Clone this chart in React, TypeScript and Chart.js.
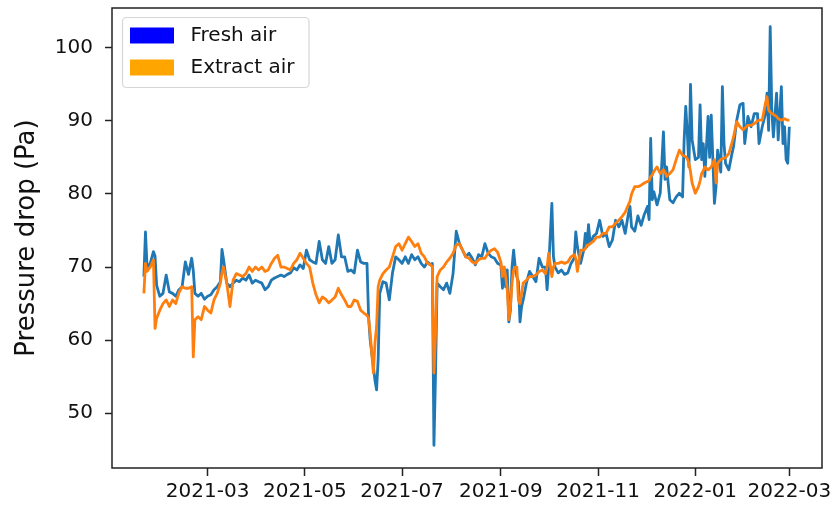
import { useEffect, useRef } from "react";
import { Chart, registerables } from "chart.js";

Chart.register(...registerables);

// ---- data ----
const dates: string[] = [
  "2021-01-20", "2021-01-21", "2021-01-22", "2021-01-24", "2021-01-26", "2021-01-27", "2021-01-28", "2021-01-30",
  "2021-02-01", "2021-02-03", "2021-02-05", "2021-02-07", "2021-02-09", "2021-02-11", "2021-02-13", "2021-02-15", "2021-02-17", "2021-02-19", "2021-02-20", "2021-02-21", "2021-02-23", "2021-02-25", "2021-02-27",
  "2021-03-01", "2021-03-03", "2021-03-05", "2021-03-07", "2021-03-09", "2021-03-10", "2021-03-11", "2021-03-13", "2021-03-15", "2021-03-17", "2021-03-19", "2021-03-21", "2021-03-23", "2021-03-25", "2021-03-27", "2021-03-29", "2021-03-31",
  "2021-04-02", "2021-04-04", "2021-04-06", "2021-04-08", "2021-04-10", "2021-04-12", "2021-04-14", "2021-04-16", "2021-04-18", "2021-04-20", "2021-04-22", "2021-04-24", "2021-04-26", "2021-04-28", "2021-04-30",
  "2021-05-02", "2021-05-04", "2021-05-06", "2021-05-08", "2021-05-10", "2021-05-12", "2021-05-14", "2021-05-16", "2021-05-18", "2021-05-20", "2021-05-22", "2021-05-24", "2021-05-26", "2021-05-28", "2021-05-30",
  "2021-06-01", "2021-06-03", "2021-06-05", "2021-06-07", "2021-06-09", "2021-06-10", "2021-06-11", "2021-06-13", "2021-06-14", "2021-06-15", "2021-06-16", "2021-06-17", "2021-06-19", "2021-06-21", "2021-06-23", "2021-06-25", "2021-06-27", "2021-06-29",
  "2021-07-01", "2021-07-03", "2021-07-05", "2021-07-07", "2021-07-09", "2021-07-11", "2021-07-13", "2021-07-15", "2021-07-17", "2021-07-19", "2021-07-20", "2021-07-21", "2021-07-22", "2021-07-23", "2021-07-25", "2021-07-27", "2021-07-29", "2021-07-31",
  "2021-08-02", "2021-08-04", "2021-08-06", "2021-08-08", "2021-08-10", "2021-08-12", "2021-08-14", "2021-08-16", "2021-08-18", "2021-08-20", "2021-08-22", "2021-08-24", "2021-08-26", "2021-08-28", "2021-08-30",
  "2021-09-01", "2021-09-02", "2021-09-03", "2021-09-04", "2021-09-05", "2021-09-06", "2021-09-07", "2021-09-08", "2021-09-09", "2021-09-10", "2021-09-11", "2021-09-12", "2021-09-13", "2021-09-14", "2021-09-15", "2021-09-17", "2021-09-19", "2021-09-21", "2021-09-23", "2021-09-25", "2021-09-27", "2021-09-29", "2021-09-30",
  "2021-10-01", "2021-10-03", "2021-10-04", "2021-10-05", "2021-10-07", "2021-10-09", "2021-10-11", "2021-10-13", "2021-10-15", "2021-10-17", "2021-10-18", "2021-10-19", "2021-10-21", "2021-10-23", "2021-10-24", "2021-10-25", "2021-10-26", "2021-10-27", "2021-10-29", "2021-10-31",
  "2021-11-02", "2021-11-04", "2021-11-06", "2021-11-08", "2021-11-10", "2021-11-12", "2021-11-14", "2021-11-16", "2021-11-18", "2021-11-20", "2021-11-21", "2021-11-22", "2021-11-24", "2021-11-26", "2021-11-28", "2021-11-30",
  "2021-12-02", "2021-12-03", "2021-12-04", "2021-12-05", "2021-12-06", "2021-12-08", "2021-12-10", "2021-12-12", "2021-12-13", "2021-12-14", "2021-12-16", "2021-12-18", "2021-12-20", "2021-12-22", "2021-12-24", "2021-12-25", "2021-12-26", "2021-12-27", "2021-12-28", "2021-12-29", "2021-12-30",
  "2022-01-01", "2022-01-03", "2022-01-04", "2022-01-05", "2022-01-06", "2022-01-07", "2022-01-09", "2022-01-10", "2022-01-11", "2022-01-13", "2022-01-14", "2022-01-15", "2022-01-17", "2022-01-18", "2022-01-19", "2022-01-20", "2022-01-22", "2022-01-24", "2022-01-25", "2022-01-27", "2022-01-29", "2022-01-31",
  "2022-02-01", "2022-02-03", "2022-02-05", "2022-02-07", "2022-02-09", "2022-02-10", "2022-02-12", "2022-02-14", "2022-02-15", "2022-02-16", "2022-02-17", "2022-02-18", "2022-02-19", "2022-02-21", "2022-02-22", "2022-02-24", "2022-02-25", "2022-02-26", "2022-02-27", "2022-02-28",
  "2022-03-01",
];

const freshAir: number[] = [
  68.7, 74.8, 70.0, 70.5, 72.1, 71.5, 67.5, 66.0,
  66.4, 68.9, 66.6, 66.4, 66.0, 66.9, 67.3, 70.7, 69.0, 71.2, 69.5, 66.4, 66.0, 66.4, 65.6,
  66.0, 66.2, 66.9, 67.3, 68.0, 72.4, 71.0, 67.8, 67.3, 67.8, 68.2, 68.0, 68.5, 68.2, 68.9, 67.8, 68.2,
  68.0, 67.8, 66.9, 67.3, 68.2, 68.5, 68.7, 68.9, 68.7, 69.0, 69.2, 69.9, 69.6, 70.3, 69.8,
  72.3, 71.0, 70.7, 70.5, 73.5, 71.0, 70.5, 72.8, 70.5, 71.0, 74.4, 71.4, 71.4, 69.4, 69.6,
  69.2, 72.3, 70.7, 70.5, 70.5, 63.2, 60.0, 56.4, 54.5, 53.2, 57.3, 66.4, 68.0, 67.8, 65.5, 69.2, 71.4, 71.0,
  70.5, 71.4, 70.5, 71.7, 71.0, 71.4, 70.5, 70.0, 70.7, 70.3, 70.5, 45.6, 55.4, 67.8, 67.3, 66.9, 67.8, 66.4,
  69.1, 74.9, 73.2, 72.3, 71.4, 71.9, 71.2, 70.3, 71.7, 71.4, 73.2, 71.9, 71.4, 71.2, 70.5,
  70.3, 67.1, 70.0, 67.3, 69.6, 62.5, 64.1, 70.0, 72.3, 70.0, 68.7, 68.0, 62.5, 64.6, 65.5, 67.8, 69.4, 68.7, 68.0, 71.2, 70.0, 70.0, 66.9,
  70.0, 78.7, 71.4, 70.0, 69.2, 69.6, 69.0, 69.2, 70.5, 71.2, 74.8, 72.8, 70.5, 72.3, 74.6, 72.8, 75.8, 73.2, 74.2, 74.6,
  76.4, 74.2, 74.6, 72.8, 73.7, 76.4, 75.5, 76.4, 74.6, 77.3, 78.3, 75.5, 74.9, 77.0, 75.7, 77.2,
  78.3, 76.5, 87.6, 79.2, 80.3, 78.5, 80.1, 88.5, 82.0, 83.7, 79.2, 78.8, 79.6, 80.1, 79.6, 87.4, 92.0, 88.3, 83.7, 95.0, 87.4,
  84.7, 85.0, 92.2, 84.7, 86.9, 82.4, 90.6, 85.0, 90.8, 78.7, 81.0, 86.0, 83.0, 94.7, 86.9, 84.2, 83.3, 85.5, 86.5, 90.1, 92.2, 92.4,
  86.9, 90.6, 89.2, 91.0, 91.0, 86.9, 89.2, 91.0, 93.8, 88.7, 102.9, 91.5, 87.8, 93.8, 87.4, 94.7, 86.9, 89.2, 84.7, 84.2,
  89.2,
];

const extractAir: number[] = [
  66.4, 70.5, 69.4, 70.0, 71.0, 61.6, 63.0, 64.1,
  65.0, 65.5, 64.6, 65.5, 65.0, 66.5, 67.3, 67.1, 67.1, 67.3, 57.7, 62.8, 63.2, 62.8, 64.6,
  64.1, 63.7, 65.5, 66.4, 67.8, 69.2, 70.0, 67.8, 64.6, 68.2, 69.1, 68.9, 68.7, 69.1, 70.0, 69.4, 70.0,
  69.6, 70.0, 69.4, 69.6, 70.5, 71.2, 71.6, 70.0, 70.0, 69.8, 69.6, 70.5, 71.0, 71.9, 71.2,
  70.5, 70.0, 67.8, 66.2, 65.1, 65.9, 65.6, 65.1, 65.5, 65.9, 67.1, 66.2, 65.5, 64.6, 64.6,
  65.5, 65.3, 64.1, 63.7, 63.4, 63.0, 60.9, 55.5, 59.6, 61.8, 67.3, 68.2, 69.1, 69.6, 70.0, 71.4, 72.8, 73.2,
  72.3, 73.2, 74.1, 73.5, 72.8, 73.2, 71.9, 71.4, 70.5, 70.3, 70.0, 55.5, 60.9, 68.7, 69.6, 70.0, 70.7, 71.2,
  71.9, 73.0, 73.2, 72.3, 71.4, 71.2, 70.7, 70.5, 71.0, 71.2, 71.2, 71.9, 72.3, 72.5, 72.0,
  70.7, 68.7, 70.0, 68.7, 67.0, 62.8, 64.6, 67.8, 69.6, 70.0, 70.0, 65.5, 65.0, 66.4, 67.8, 68.2, 68.7, 68.7, 68.9, 69.4, 69.6, 69.1, 70.0,
  71.9, 68.7, 70.0, 70.5, 70.5, 70.7, 70.5, 70.7, 71.4, 71.7, 71.2, 69.4, 72.3, 72.3, 72.5, 73.0, 73.0, 73.2, 73.5, 74.1,
  74.1, 74.6, 74.6, 75.5, 75.5, 76.0, 76.4, 76.9, 77.5, 78.5, 79.0, 80.0, 81.0, 81.0, 81.2, 81.5,
  81.7, 81.8, 82.4, 82.6, 83.1, 83.7, 82.8, 83.3, 83.0, 82.4, 82.8, 83.3, 84.7, 86.0, 85.3, 85.2, 85.1, 84.8, 84.2, 83.0, 81.5,
  80.1, 81.0, 81.8, 82.8, 83.2, 83.7, 83.3, 83.5, 83.7, 84.7, 81.5, 84.2, 84.7, 84.8, 84.9, 85.0, 85.5, 87.0, 87.8, 89.9, 89.2, 88.8,
  89.0, 89.4, 89.4, 89.6, 90.0, 90.1, 90.1, 92.4, 93.3, 91.5, 91.2, 91.0, 90.9, 90.6, 90.3, 90.1, 90.2, 90.3, 90.2, 90.1,
  90.1,
];

const seriesNames: string[] = ["Fresh air", "Extract air"];
const lineColors: string[] = ["#1f77b4", "#ff7f0e"];
const legendColors: string[] = ["#0000ff", "#ffa500"];
const xTickLabels: string[] = ["2021-03", "2021-05", "2021-07", "2021-09", "2021-11", "2022-01", "2022-03"];
const yTickValues: number[] = [50, 60, 70, 80, 90, 100];
const yTitle = "Pressure drop (Pa)";

// ---- helpers ----
const EPOCH = Date.UTC(2021, 0, 1);
const toDay = (s: string): number => {
  const [y, m, d] = s.split("-").map(Number);
  return (Date.UTC(y, m - 1, d || 1) - EPOCH) / 86400000;
};
const xTickValues = xTickLabels.map((l) => toDay(l));
const xDays = dates.map(toDay);

const FONT = "DejaVu Sans";
const TEXT_COLOR = "#111111";
const AXIS_COLOR = "#222222";

const framePlugin = {
  id: "frameAndLegend",
  afterDraw(chart: any) {
    const { ctx, chartArea } = chart;
    const { left, top, right, bottom } = chartArea;
    ctx.save();
    // axes frame
    ctx.strokeStyle = AXIS_COLOR;
    ctx.lineWidth = 1.5;
    ctx.strokeRect(left, top, right - left, bottom - top);

    // legend
    ctx.font = `20px "${FONT}"`;
    const textW = Math.max(...seriesNames.map((n) => ctx.measureText(n).width));
    const bx = left + 10.5;
    const by = top + 9.5;
    const bw = 8 + 44 + 16.5 + textW + 14;
    const bh = 70;
    const r = 4;
    ctx.beginPath();
    ctx.moveTo(bx + r, by);
    ctx.lineTo(bx + bw - r, by);
    ctx.arcTo(bx + bw, by, bx + bw, by + r, r);
    ctx.lineTo(bx + bw, by + bh - r);
    ctx.arcTo(bx + bw, by + bh, bx + bw - r, by + bh, r);
    ctx.lineTo(bx + r, by + bh);
    ctx.arcTo(bx, by + bh, bx, by + bh - r, r);
    ctx.lineTo(bx, by + r);
    ctx.arcTo(bx, by, bx + r, by, r);
    ctx.closePath();
    ctx.fillStyle = "rgba(255,255,255,0.8)";
    ctx.fill();
    ctx.strokeStyle = "#d6d6d6";
    ctx.lineWidth = 1.2;
    ctx.stroke();

    seriesNames.forEach((name, i) => {
      const cy = by + 18 + i * 32;
      ctx.fillStyle = legendColors[i];
      ctx.fillRect(bx + 7.5, cy - 8, 44, 16);
      ctx.fillStyle = TEXT_COLOR;
      ctx.textAlign = "left";
      ctx.textBaseline = "middle";
      ctx.fillText(name, bx + 68, cy);
    });
    ctx.restore();
  },
};

export default function App() {
  const canvasRef = useRef<HTMLCanvasElement | null>(null);

  useEffect(() => {
    document.body.style.margin = "0";
    const canvas = canvasRef.current;
    if (!canvas) return;

    const makeData = (vals: number[]) => vals.map((v, i) => ({ x: xDays[i], y: v }));

    const chart = new Chart(canvas, {
      type: "line",
      data: {
        datasets: [
          {
            label: seriesNames[0],
            data: makeData(freshAir),
            borderColor: lineColors[0],
            backgroundColor: lineColors[0],
            borderWidth: 2.8,
            pointRadius: 0,
            tension: 0,
            borderJoinStyle: "round",
            order: 2,
          },
          {
            label: seriesNames[1],
            data: makeData(extractAir),
            borderColor: lineColors[1],
            backgroundColor: lineColors[1],
            borderWidth: 2.8,
            pointRadius: 0,
            tension: 0,
            borderJoinStyle: "round",
            order: 1,
          },
        ],
      },
      options: {
        animation: false,
        responsive: false,
        maintainAspectRatio: false,
        events: [],
        layout: { padding: { top: 8, right: 13, left: 0, bottom: 0 } },
        plugins: {
          legend: { display: false },
          tooltip: { enabled: false },
        },
        scales: {
          x: {
            type: "linear",
            min: -1,
            max: 444.5,
            afterBuildTicks: (scale: any) => {
              scale.ticks = xTickValues.map((v) => ({ value: v }));
            },
            afterFit: (scale: any) => {
              scale.height = 40;
              scale.paddingLeft = 0;
              scale.paddingRight = 0;
            },
            grid: {
              display: true,
              drawOnChartArea: false,
              drawTicks: true,
              tickLength: 8,
              tickColor: AXIS_COLOR,
              tickWidth: 1.5,
            },
            border: { display: false },
            ticks: {
              autoSkip: false,
              maxRotation: 0,
              minRotation: 0,
              padding: 4,
              color: TEXT_COLOR,
              font: { family: FONT, size: 20 },
              callback: (v: any) => {
                const idx = xTickValues.indexOf(Number(v));
                return idx >= 0 ? xTickLabels[idx] : "";
              },
            },
          },
          y: {
            type: "linear",
            min: 42.5,
            max: 105.45,
            afterBuildTicks: (scale: any) => {
              scale.ticks = yTickValues.map((v) => ({ value: v }));
            },
            afterFit: (scale: any) => {
              scale.width = 112;
              scale.paddingTop = 0;
              scale.paddingBottom = 0;
            },
            grid: {
              display: true,
              drawOnChartArea: false,
              drawTicks: true,
              tickLength: 7,
              tickColor: AXIS_COLOR,
              tickWidth: 1.5,
            },
            border: { display: false },
            ticks: {
              padding: 12,
              color: TEXT_COLOR,
              font: { family: FONT, size: 20 },
              callback: (v: any) => String(v),
            },
            title: {
              display: true,
              text: yTitle,
              color: TEXT_COLOR,
              font: { family: FONT, size: 26 },
              padding: { top: 12, bottom: 0 },
            },
          },
        },
      },
      plugins: [framePlugin],
    } as any);

    return () => {
      chart.destroy();
    };
  }, []);

  return <canvas ref={canvasRef} width={835} height={508} style={{ display: "block" }} />;
}
